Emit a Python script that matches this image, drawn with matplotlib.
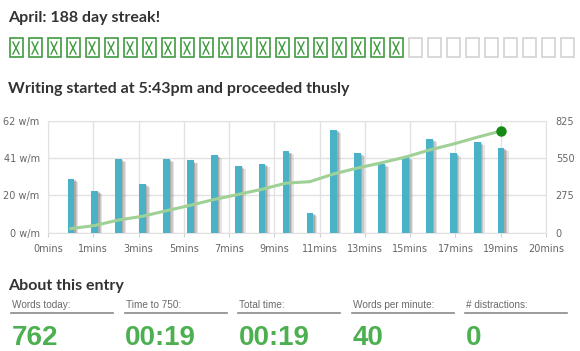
import numpy as np
import matplotlib
matplotlib.use('Agg')
import matplotlib.pyplot as plt
from matplotlib.patches import Rectangle
import matplotlib.patheffects as pe

# data
minutes = list(range(1, 20))
wpm = [30, 23, 41, 27, 41, 40, 43, 37, 38, 45, 11, 57, 44, 38, 42, 52, 44, 50, 47]
words = [30, 53, 94, 121, 162, 202, 245, 282, 320, 365, 376, 433, 477, 515, 557, 609, 653, 703, 750]
x_labels = ['0mins', '1mins', '3mins', '5mins', '7mins', '9mins', '11mins',
            '13mins', '15mins', '17mins', '19mins', '20mins']
left_ticks = [0, 62 / 3, 124 / 3, 62]
left_labels = ['0 w/m', '20 w/m', '41 w/m', '62 w/m']
right_ticks = [0, 275, 550, 825]
days_done = 21
days_in_month = 30
stat_labels = ['Words today:', 'Time to 750:', 'Total time:', 'Words per minute:', '# distractions:']
stat_values = ['762', '00:19', '00:19', '40', '0']

W, H = 580, 351
head_font = 'Lato'
head_col = '#333333'
green_box = '#3f9b3f'
green_val = '#4cb050'

fig = plt.figure(figsize=(W / 100, H / 100), dpi=100)

# overlay in pixel coords for texts and boxes
ov = fig.add_axes([0, 0, 1, 1])
ov.set_xlim(0, W)
ov.set_ylim(H, 0)
ov.axis('off')

ov.text(8, 22, 'April: 188 day streak!', fontsize=11.5, fontweight='bold',
        family=head_font, color=head_col, va='baseline')

for k in range(days_in_month):
    x0 = 9.5 + 19 * k
    col = green_box if k < days_done else '#d2d2d2'
    ov.add_patch(Rectangle((x0, 38), 13, 19, fill=False, ec=col, lw=1.2))
    if k < days_done:
        ov.plot([x0 + 3.5, x0 + 9.5], [42, 54], color=col, lw=1.0)
        ov.plot([x0 + 9.5, x0 + 3.5], [42, 54], color=col, lw=1.0)

ov.text(8, 93, 'Writing started at 5:43pm and proceeded thusly', fontsize=11.5,
        fontweight='bold', family=head_font, color=head_col, va='baseline')

ov.text(8, 290, 'About this entry', fontsize=11.5, fontweight='bold',
        family=head_font, color=head_col, va='baseline')

for i, (lab, val) in enumerate(zip(stat_labels, stat_values)):
    x0 = 11 + 113.6 * i
    ov.text(x0 + 1, 308, lab, fontsize=7.2, family='Liberation Sans',
            color='#6a6a6a', va='baseline')
    ov.plot([x0, x0 + 102], [312.5, 312.5], color='#8a8a8a', lw=1.2)
    ov.text(x0 + 0.5, 345, val, fontsize=20, fontweight='bold',
            family='Liberation Sans', color=green_val, va='baseline')

# chart
ax = fig.add_axes([48 / W, 1 - 232.7 / H, (546 - 48) / W, 112 / H])
ax.set_xlim(0.04, 20.88)
ax.set_ylim(0, 62)
shadow = [pe.SimplePatchShadow(offset=(3.0, -2.2), shadow_rgbFace='#999999', alpha=0.25),
          pe.SimplePatchShadow(offset=(2.0, -1.5), shadow_rgbFace='#888888', alpha=0.3),
          pe.SimplePatchShadow(offset=(1.0, -0.8), shadow_rgbFace='#777777', alpha=0.35),
          pe.Normal()]
ax.bar(minutes, wpm, width=0.28, color='#4ab2c6', zorder=3, path_effects=shadow)
ax.set_xticks(np.linspace(0.04, 20.88, len(x_labels)))
ax.set_xticklabels(x_labels)
ax.set_yticks(left_ticks)
ax.set_yticklabels(left_labels)
ax.grid(True, color='#e2e2e2', lw=1)
ax.set_axisbelow(True)
for s in ax.spines.values():
    s.set_color('#e2e2e2')
ax.tick_params(axis='x', length=3, color='#d0d0d0', labelsize=7, labelcolor='#666666', pad=5)
ax.tick_params(axis='y', length=0, labelsize=7, labelcolor='#666666', pad=6)

ax2 = ax.twinx()
ax2.set_ylim(0, 825)
ax2.plot(minutes, words, color='#9fd096', lw=2.2, zorder=4)
ax2.plot(minutes[-1], words[-1], 'o', color='#168a16', ms=6.5, zorder=5)
ax2.set_yticks(right_ticks)
ax2.set_yticklabels([str(t) for t in right_ticks])
ax2.tick_params(axis='y', length=0, labelsize=7, labelcolor='#666666', pad=7)
for s in ax2.spines.values():
    s.set_visible(False)

fig.savefig('out.png', dpi=100)
